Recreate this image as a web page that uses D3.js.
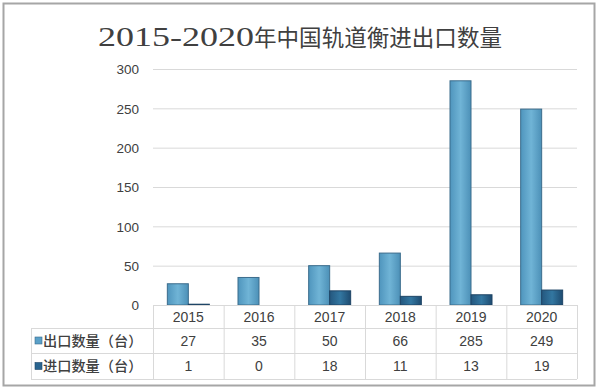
<!DOCTYPE html>
<html><head><meta charset="utf-8">
<script src="https://cdn.jsdelivr.net/npm/d3@7"></script>
<style>body{margin:0;background:#fff}svg{display:block}</style>
</head><body><svg id="c" width="600" height="390"></svg>
<script>
const years = ["2015","2016","2017","2018","2019","2020"];
const exportVals = [27,35,50,66,285,249];
const importVals = [1,0,18,11,13,19];
const seriesNames = ["出口数量（台）","进口数量（台）"];
const yTicks = [0,50,100,150,200,250,300];
const titleNum = "2015-2020";
const titleCjk = "年中国轨道衡进出口数量";

const svg = d3.select("#c");
const defs = svg.append("defs");
function grad(id, stops){
  const g = defs.append("linearGradient").attr("id",id).attr("x1","0").attr("x2","1").attr("y1","0").attr("y2","0");
  stops.forEach(s=>g.append("stop").attr("offset",s[0]).attr("stop-color",s[1]));
}
grad("gExp",[["0","#4f95bd"],["0.5","#70b4d6"],["1","#4c90b7"]]);
grad("gImp",[["0","#24577e"],["0.5","#3377a1"],["1","#1e4b70"]]);
const fills = ["url(#gExp)","url(#gImp)"];
const strokes = ["#3b6c8c","#1e4566"];
const keyFills = ["#5aa0c8","#2a6590"];

// outer border
svg.append("rect").attr("x",3.5).attr("y",3.5).attr("width",591).attr("height",382)
  .attr("fill","#fff").attr("stroke","#a6a6a6").attr("stroke-width",2);

// title
const t = svg.append("text").attr("x",300).attr("y",46).attr("text-anchor","middle").attr("fill","#404040");
t.append("tspan").text(titleNum).attr("font-family","'Liberation Serif','DejaVu Serif',serif").attr("font-size",27.5)
  .attr("textLength",156).attr("lengthAdjust","spacingAndGlyphs");
t.append("tspan").text(titleCjk).attr("font-family","'Noto Sans CJK SC',sans-serif").attr("font-size",22.5)
  .attr("textLength",248).attr("lengthAdjust","spacingAndGlyphs");

const x0 = 153, x1 = 577;
const x = d3.scaleBand().domain(years).range([x0,x1]);
const y = d3.scaleLinear().domain([0,300]).range([305,69]);
const bw = 21;

// gridlines
svg.append("g").selectAll("line").data(yTicks.filter(d=>d>0)).join("line")
  .attr("x1",x0).attr("x2",x1).attr("y1",d=>y(d)+0.5).attr("y2",d=>y(d)+0.5)
  .attr("stroke","#d9d9d9").attr("stroke-width",1);

// y axis labels
const yAxis = d3.axisLeft(y).tickValues(yTicks).tickSize(0).tickPadding(0);
const ya = svg.append("g").attr("transform","translate(139,0)").call(yAxis);
ya.select(".domain").remove();
ya.selectAll("text").attr("font-family","'Liberation Sans',Arial,sans-serif").attr("font-size",13.5).attr("fill","#404040").attr("dy","0.35em");

// bars
const series = [exportVals, importVals];
series.forEach((vals,si)=>{
  svg.append("g").selectAll("rect").data(vals).join("rect")
    .attr("x",(d,i)=>x(years[i]) + x.bandwidth()/2 - bw + si*bw)
    .attr("width",bw)
    .attr("y",d=>y(d))
    .attr("height",d=>y(0)-y(d))
    .attr("fill",fills[si])
    .attr("stroke",d=>d>0?strokes[si]:"none").attr("stroke-width",1);
});

// table
const rowY = [305,328,353,379];
const tg = svg.append("g").attr("stroke","#d9d9d9").attr("stroke-width",1);
tg.append("line").attr("x1",x0).attr("x2",x1).attr("y1",rowY[0]+0.5).attr("y2",rowY[0]+0.5);
[1,2,3].forEach(r=>tg.append("line").attr("x1",31).attr("x2",x1).attr("y1",rowY[r]+0.5).attr("y2",rowY[r]+0.5));
years.forEach(yr=>tg.append("line").attr("x1",x(yr)+0.5).attr("x2",x(yr)+0.5).attr("y1",rowY[0]).attr("y2",rowY[3]));
tg.append("line").attr("x1",x1+0.5).attr("x2",x1+0.5).attr("y1",rowY[0]).attr("y2",rowY[3]);
tg.append("line").attr("x1",31.5).attr("x2",31.5).attr("y1",rowY[1]).attr("y2",rowY[3]);

const tf = "'Liberation Sans',Arial,sans-serif";
svg.append("g").selectAll("text").data(years).join("text")
  .attr("x",d=>x(d)+x.bandwidth()/2).attr("y",(rowY[0]+rowY[1])/2).attr("dy","0.36em")
  .attr("text-anchor","middle").attr("font-family",tf).attr("font-size",14).attr("fill","#404040").text(d=>d);
series.forEach((vals,si)=>{
  const cy = (rowY[si+1]+rowY[si+2])/2;
  svg.append("g").selectAll("text").data(vals).join("text")
    .attr("x",(d,i)=>x(years[i])+x.bandwidth()/2).attr("y",cy).attr("dy","0.36em")
    .attr("text-anchor","middle").attr("font-family",tf).attr("font-size",14).attr("fill","#404040").text(d=>d);
  svg.append("rect").attr("x",35).attr("y",cy-3.5).attr("width",7).attr("height",7)
    .attr("fill",keyFills[si]).attr("stroke",strokes[si]).attr("stroke-width",0.6);
  svg.append("text").attr("x",43).attr("y",cy).attr("dy","0.36em")
    .attr("font-family","'Noto Sans CJK SC',sans-serif").attr("font-size",14.2).attr("font-weight",500)
    .attr("fill","#404040").text(seriesNames[si]);
});
</script></body></html>
